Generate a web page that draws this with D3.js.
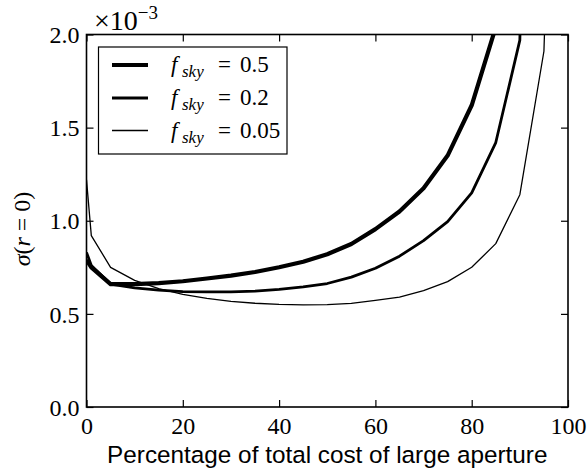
<!DOCTYPE html>
<html>
<head>
<meta charset="utf-8">
<script src="https://cdn.jsdelivr.net/npm/d3@7"></script>
<style>
  html, body { margin: 0; padding: 0; background: #fff; }
  svg { display: block; }
  .serif { font-family: "Liberation Serif", "DejaVu Serif", serif; }
  .sans { font-family: "Liberation Sans", Arial, sans-serif; }
</style>
</head>
<body>
<svg id="chart" width="588" height="468"></svg>
<script>
// Percentage of the total cost spent on the large aperture
const costPct = [0, 1, 5, 10, 15, 20, 25, 30, 35, 40, 45, 50, 55, 60, 65, 70, 75, 80, 85, 90, 95, 100];

// sigma(r=0) in units of 1e-3, one list per sky fraction
const sigmaFsky050 = [0.79, 0.75, 0.66, 0.66, 0.665, 0.675, 0.69, 0.705, 0.725, 0.75, 0.78, 0.82, 0.875, 0.955, 1.05, 1.175, 1.35, 1.62, 2.04, 4.0, 9.0, 30.0];
const sigmaFsky020 = [0.83, 0.76, 0.66, 0.64, 0.627, 0.62, 0.618, 0.618, 0.622, 0.632, 0.645, 0.663, 0.697, 0.745, 0.81, 0.893, 0.995, 1.15, 1.42, 1.97, 8.0, 30.0];
const sigmaFsky005 = [1.22, 0.92, 0.75, 0.68, 0.635, 0.605, 0.583, 0.567, 0.557, 0.551, 0.548, 0.55, 0.556, 0.572, 0.59, 0.625, 0.673, 0.75, 0.877, 1.14, 1.91, 6.0];

const seriesLabels = ["0.5", "0.2", "0.05"];
const seriesWidths = [4.2, 2.8, 1.3];
const seriesValues = [sigmaFsky050, sigmaFsky020, sigmaFsky005];

const xTicks = [0, 20, 40, 60, 80, 100];
const yTicks = [0.0, 0.5, 1.0, 1.5, 2.0];

const svg = d3.select("#chart");
const margin = { left: 86.5, right: 20, top: 34.5, bottom: 61 };
const W = 588, H = 468;

const x = d3.scaleLinear().domain([0, 100]).range([margin.left, W - margin.right]);
const y = d3.scaleLinear().domain([0, 2]).range([H - margin.bottom, margin.top]);

svg.append("defs").append("clipPath").attr("id", "plotClip")
  .append("rect")
  .attr("x", x(0)).attr("y", y(2))
  .attr("width", x(100) - x(0)).attr("height", y(0) - y(2));

// Curves
const line = d3.line()
  .x((d, i) => x(costPct[i]))
  .y(d => y(d));

const curves = svg.append("g").attr("clip-path", "url(#plotClip)");
seriesValues.forEach((vals, k) => {
  curves.append("path")
    .attr("d", line(vals))
    .attr("fill", "none")
    .attr("stroke", "#000")
    .attr("stroke-width", seriesWidths[k])
    .attr("stroke-linejoin", "round");
});

// Axes on all four sides with inward ticks
const tickLen = 7;
const fmtY = d3.format(".1f");
const axBottom = d3.axisBottom(x).tickValues(xTicks).tickSizeInner(-tickLen).tickSizeOuter(0).tickPadding(8);
const axTop = d3.axisTop(x).tickValues(xTicks).tickSizeInner(-tickLen).tickSizeOuter(0).tickFormat("");
const axLeft = d3.axisLeft(y).tickValues(yTicks).tickSizeInner(-tickLen).tickSizeOuter(0).tickPadding(7).tickFormat(fmtY);
const axRight = d3.axisRight(y).tickValues(yTicks).tickSizeInner(-tickLen).tickSizeOuter(0).tickFormat("");

function styleAxis(g) {
  g.select(".domain").remove();
  g.selectAll(".tick line").attr("stroke", "#000").attr("stroke-width", 1.2);
  g.selectAll(".tick text")
    .attr("class", "serif")
    .attr("fill", "#000")
    .style("font-size", "24px");
}

svg.append("g").attr("transform", `translate(0,${y(0)})`).call(axBottom).call(styleAxis)
  .selectAll(".tick text").attr("dy", "0.78em");
svg.append("g").attr("transform", `translate(0,${y(2)})`).call(axTop).call(styleAxis);
svg.append("g").attr("transform", `translate(${x(0)},0)`).call(axLeft).call(styleAxis)
  .selectAll(".tick text").attr("dy", "0.34em");
svg.append("g").attr("transform", `translate(${x(100)},0)`).call(axRight).call(styleAxis);

// Frame
svg.append("rect")
  .attr("x", x(0)).attr("y", y(2))
  .attr("width", x(100) - x(0)).attr("height", y(0) - y(2))
  .attr("fill", "none").attr("stroke", "#000").attr("stroke-width", 1.6);

// Offset text above the y axis
const offset = svg.append("text").attr("class", "serif")
  .attr("x", 94).attr("y", 30).attr("fill", "#000").style("font-size", "28px");
offset.append("tspan").text("×10");
offset.append("tspan").attr("dy", -11).style("font-size", "19px").text("−3");

// Axis titles
svg.append("text").attr("class", "sans")
  .attr("x", (x(0) + x(100)) / 2).attr("y", 463)
  .attr("text-anchor", "middle").attr("fill", "#000")
  .style("font-size", "24.3px")
  .text("Percentage of total cost of large aperture");

const yTitle = svg.append("text").attr("class", "serif")
  .attr("transform", `translate(30,229) rotate(-90)`)
  .attr("text-anchor", "middle").attr("fill", "#000")
  .style("font-size", "24px");
yTitle.append("tspan").style("font-style", "italic").text("σ");
yTitle.append("tspan").text("(");
yTitle.append("tspan").style("font-style", "italic").text("r");
yTitle.append("tspan").text("\u2005=\u20050)");

// Legend
const legend = svg.append("g");
legend.append("rect")
  .attr("x", 98.5).attr("y", 47).attr("width", 188.5).attr("height", 107)
  .attr("fill", "#fff").attr("stroke", "#000").attr("stroke-width", 1.2);
const rowY = [65, 98, 130.5];
seriesLabels.forEach((lab, k) => {
  legend.append("line")
    .attr("x1", 112).attr("x2", 148)
    .attr("y1", rowY[k]).attr("y2", rowY[k])
    .attr("stroke", "#000").attr("stroke-width", seriesWidths[k]);
  const t = legend.append("text").attr("class", "serif")
    .attr("y", rowY[k] + 7).attr("fill", "#000")
    .style("font-size", "23px");
  t.append("tspan").attr("x", 171).style("font-style", "italic").text("f");
  t.append("tspan").attr("x", 182).style("font-style", "italic").style("font-size", "17px").attr("dy", 5).text("sky");
  t.append("tspan").attr("x", 218).attr("dy", -5).text("=");
  t.append("tspan").attr("x", 240).text(lab);
});
</script>
</body>
</html>
